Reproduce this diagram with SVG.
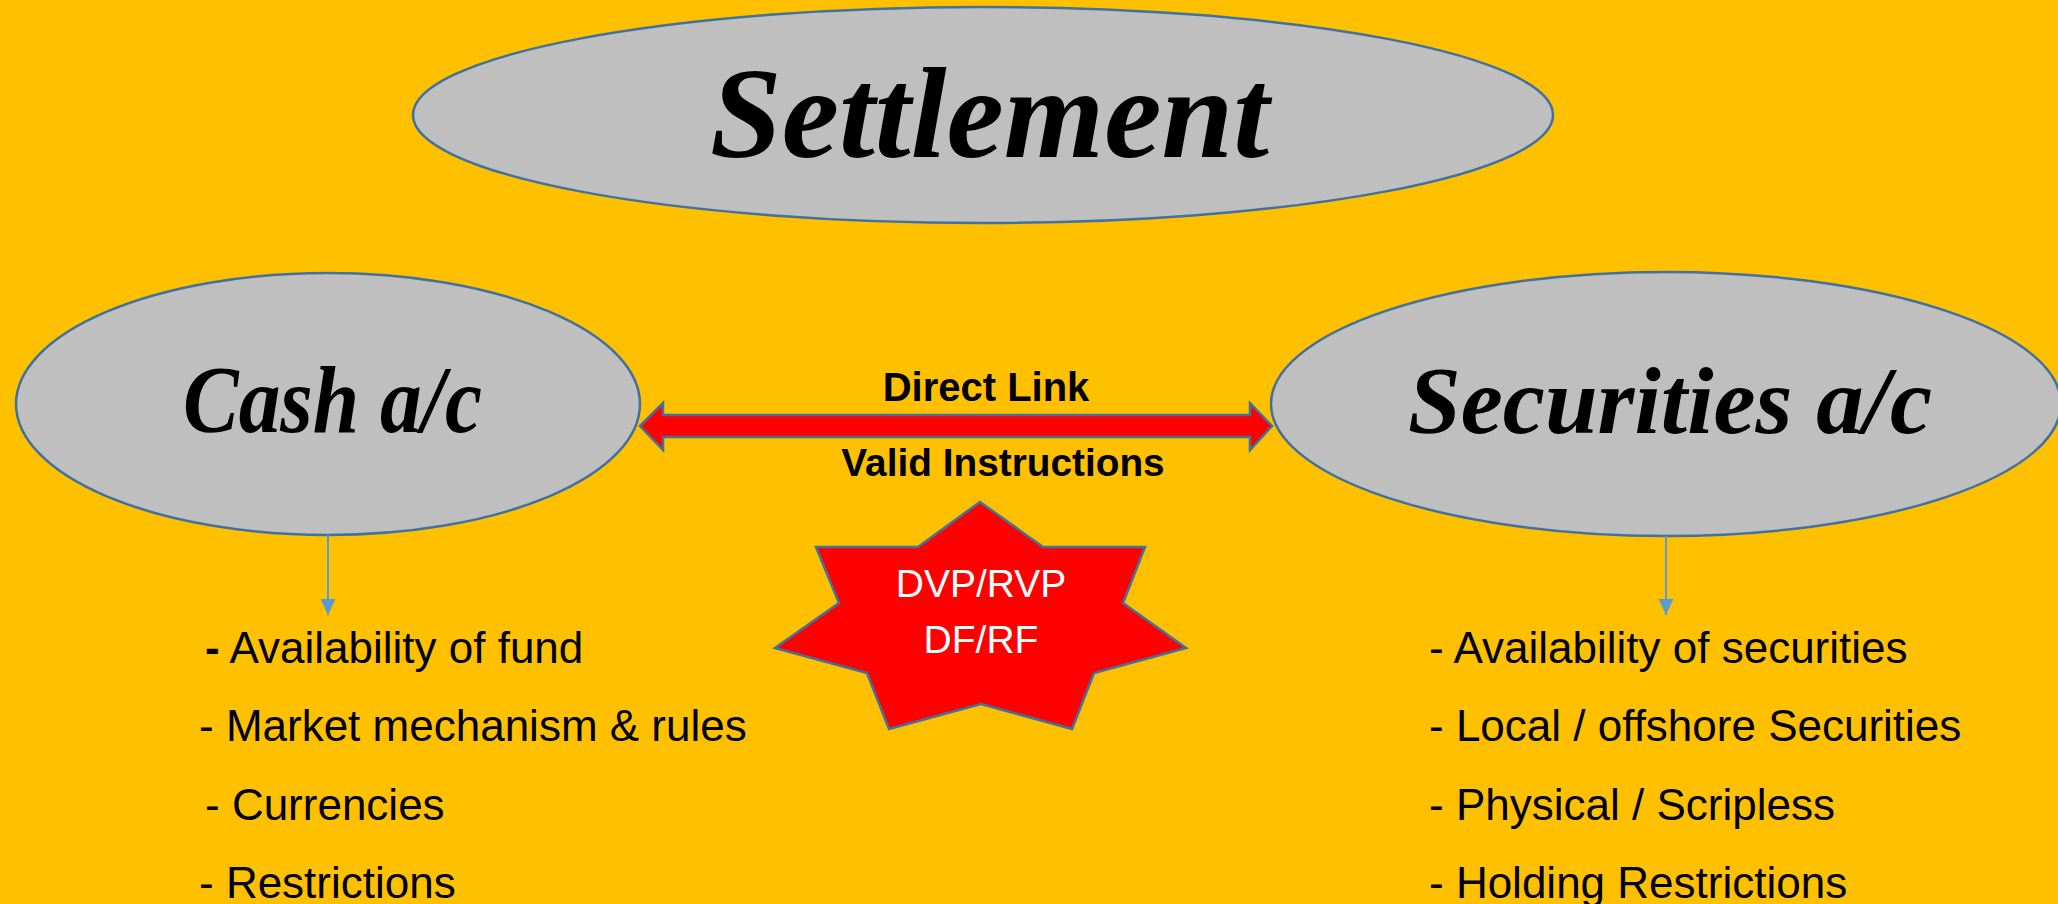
<svg xmlns="http://www.w3.org/2000/svg" width="2058" height="904" viewBox="0 0 2058 904">
  <style>
    .oval { fill: #BFBFBF; stroke: #41719C; stroke-width: 2.5; }
    .script { font-family: "Liberation Serif", "DejaVu Serif", serif; font-style: italic; font-weight: bold; fill: #000000; }
    .item { font-family: "Liberation Sans", Arial, sans-serif; font-size: 44px; fill: #000000; }
    .lbl { font-family: "Liberation Sans", Arial, sans-serif; font-weight: bold; fill: #000000; text-anchor: middle; }
    .star-txt { font-family: "Liberation Sans", Arial, sans-serif; font-size: 39px; fill: #FFFFFF; text-anchor: middle; }
    .conn { stroke: #5B9BD5; stroke-width: 2; fill: none; }
  </style>
  <defs>
    <marker id="ah" viewBox="0 0 16 16" refX="16" refY="8" markerWidth="16" markerHeight="16" markerUnits="userSpaceOnUse" orient="auto">
      <path d="M0,0.5 L16,8 L0,15.5 Z" fill="#5B9BD5"/>
    </marker>
  </defs>
  <rect x="0" y="0" width="2058" height="904" fill="#FFC000"/>

  <g id="settlement">
    <ellipse class="oval" cx="983" cy="115" rx="570" ry="108"/>
    <text class="script" x="710" y="157" font-size="130" textLength="559" lengthAdjust="spacingAndGlyphs">Settlement</text>
  </g>

  <g id="cash">
    <ellipse class="oval" cx="328" cy="404" rx="312" ry="131"/>
    <text class="script" x="183" y="432" font-size="95" textLength="299" lengthAdjust="spacingAndGlyphs">Cash a/c</text>
  </g>

  <g id="securities">
    <ellipse class="oval" cx="1666" cy="404" rx="395" ry="132"/>
    <text class="script" x="1408" y="433" font-size="95" textLength="524" lengthAdjust="spacingAndGlyphs">Securities a/c</text>
  </g>

  <g id="connectors">
    <path id="direct-link" d="M640,426 L663,403 L663,415 L1250,415 L1250,403 L1272,426 L1250,450 L1250,437 L663,437 L663,450 Z" fill="#FF0000" stroke="#41719C" stroke-width="2.5" stroke-linejoin="miter"/>
    <line class="conn" x1="328" y1="535" x2="328" y2="615" marker-end="url(#ah)"/>
    <line class="conn" x1="1666" y1="536" x2="1666" y2="615" marker-end="url(#ah)"/>
  </g>

  <g id="link-labels">
    <text class="lbl" x="986" y="401" font-size="40">Direct Link</text>
    <text class="lbl" x="1003" y="476" font-size="38.8">Valid Instructions</text>
  </g>

  <g id="star">
    <polygon points="980,502 1043,547 1145,547 1123,603 1186,648 1094,673 1072,729 981,704 889,729 867,673 775,648 839,603 816,547 918,547" fill="#FF0000" stroke="#41719C" stroke-width="2.5"/>
    <text class="star-txt" x="981" y="597">DVP/RVP</text>
    <text class="star-txt" x="981" y="653">DF/RF</text>
  </g>

  <g id="cash-list">
    <text class="item" x="205" y="663"><tspan font-weight="bold">-</tspan> Availability of fund</text>
    <text class="item" x="199" y="741">- Market mechanism &amp; rules</text>
    <text class="item" x="205" y="820">- Currencies</text>
    <text class="item" x="199" y="898">- Restrictions</text>
  </g>

  <g id="securities-list">
    <text class="item" x="1429" y="663">- Availability of securities</text>
    <text class="item" x="1429" y="741">- Local / offshore Securities</text>
    <text class="item" x="1429" y="820">- Physical / Scripless</text>
    <text class="item" x="1429" y="898">- Holding Restrictions</text>
  </g>
</svg>
